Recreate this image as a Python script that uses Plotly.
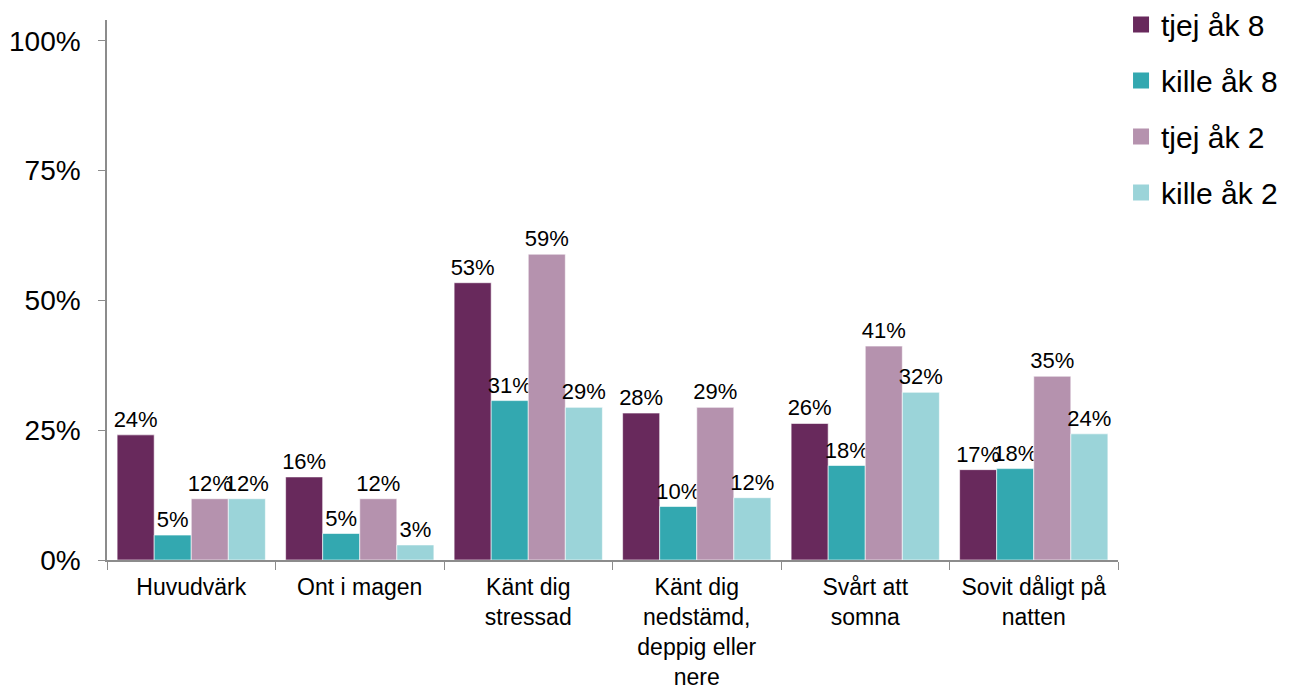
import plotly.graph_objects as go

TJEJ_8_COLOR = "#68295C"
KILLE_8_COLOR = "#33A8B0"
TJEJ_2_COLOR = "#B592AE"
KILLE_2_COLOR = "#9BD4D9"

categories = ["Huvudvärk", "Ont i magen", "Känt dig<br>stressad",
              "Känt dig<br>nedstämd,<br>deppig eller<br>nere",
              "Svårt att<br>somna", "Sovit dåligt på<br>natten"]

tjej_ak8 = [24.1, 16.0, 53.4, 28.3, 26.3, 17.4]
kille_ak8 = [4.8, 5.1, 30.7, 10.3, 18.2, 17.6]
tjej_ak2 = [11.8, 11.8, 58.9, 29.4, 41.2, 35.4]
kille_ak2 = [11.8, 2.9, 29.4, 12.0, 32.3, 24.3]

y_ticks = [0, 25, 50, 75, 100]
y_tick_labels = ["0%", "25%", "50%", "75%", "100%"]

series = [
    ("tjej åk 8", tjej_ak8, TJEJ_8_COLOR),
    ("kille åk 8", kille_ak8, KILLE_8_COLOR),
    ("tjej åk 2", tjej_ak2, TJEJ_2_COLOR),
    ("kille åk 2", kille_ak2, KILLE_2_COLOR),
]

fig = go.Figure()
for name, vals, color in series:
    fig.add_trace(go.Bar(
        x=categories, y=vals, name=name, showlegend=False,
        marker=dict(color=color, line=dict(color="white", width=0.6)),
        text=[f"{round(v)}%" for v in vals], textposition="outside",
        textfont=dict(size=22, color="black"), constraintext="none",
        cliponaxis=False, hoverinfo="skip",
    ))
    # legend entry with a bigger square swatch
    fig.add_trace(go.Scatter(
        x=[None], y=[None], mode="markers", name=name, legendgroup=name,
        marker=dict(symbol="square", size=17, color=color),
    ))

# page body has an 8px margin, so the figure is a bit smaller than the window
fig.update_layout(
    barmode="group", bargap=0.12, bargroupgap=0,
    width=1283, height=683,
    margin=dict(l=99, r=173, t=12, b=131, autoexpand=False),
    plot_bgcolor="white", paper_bgcolor="white",
    font=dict(family="Liberation Sans, Arial, sans-serif", color="black"),
    legend=dict(x=1.003, xanchor="left", y=1.04, yanchor="top",
                font=dict(size=30), tracegroupgap=14, itemwidth=30),
    showlegend=True,
)
fig.update_xaxes(showline=True, linecolor="#8C8C8C", linewidth=1.5,
                 ticks="outside", tickson="boundaries", ticklen=8,
                 tickcolor="#8C8C8C", tickfont=dict(size=23), showgrid=False,
                 ticklabelstandoff=6)
fig.update_yaxes(range=[0, 104], tickvals=y_ticks, ticktext=y_tick_labels,
                 showline=True, linecolor="#8C8C8C", linewidth=1.5,
                 ticks="outside", ticklen=7, tickcolor="#8C8C8C",
                 tickfont=dict(size=28), showgrid=False, zeroline=False,
                 ticklabelstandoff=12)

fig.write_html("out.html")
